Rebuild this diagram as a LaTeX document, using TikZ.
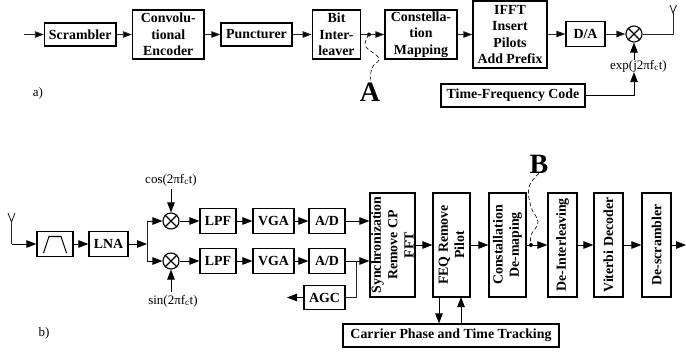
\documentclass[tikz,border=0pt]{standalone}
\usepackage{fontspec}
\setmainfont{Liberation Serif}
\usetikzlibrary{arrows.meta}
\tikzset{
  x=1pt,y=-1pt,
  bx/.style={draw=black,line width=1.2pt,inner sep=0pt,align=center,font=\fontsize{13.9}{16.4}\selectfont\bfseries},
  vbx/.style={bx,rotate=90},
  mix/.style={draw=black,circle,line width=1.1pt,minimum size=16pt,inner sep=0pt},
  lbl/.style={inner sep=0pt,font=\fontsize{13}{15}\selectfont},
  big/.style={inner sep=0pt,font=\fontsize{28}{30}\selectfont\bfseries},
  pt/.style={inner sep=0pt,minimum size=4pt,circle,fill=black},
  ar/.style={draw=black!85,line width=.8pt,-{Triangle[length=9pt,width=6.5pt,fill=black]}},
  arb/.style={draw=black,line width=.9pt,-{Triangle[length=10pt,width=7.5pt,fill=black]}},
  ln/.style={draw=black!85,line width=.9pt},
  dsh/.style={draw=black,line width=.6pt,dash pattern=on 4pt off 2.5pt},
}
\begin{document}
\begin{tikzpicture}
\useasboundingbox (0,0) rectangle (686,356);
% a) transmitter
\coordinate (in) at (24,34.5);
\node[bx,minimum width=71.5pt,minimum height=23pt] (scr) at (80.25,34.5) {Scrambler};
\node[bx,minimum width=71.5pt,minimum height=49pt] (conv) at (168.25,34.5) {Convolu-\\tional\\Encoder};
\node[bx,minimum width=71pt,minimum height=23pt] (punc) at (256.5,34.5) {Puncturer};
\node[bx,minimum width=48.5pt,minimum height=49pt] (bit) at (336.5,34.5) {Bit\\Inter-\\leaver};
\node[pt] (dota) at (369,34.5) {};
\node[bx,minimum width=72pt,minimum height=49pt] (cons) at (421,34.5) {Constella-\\tion\\Mapping};
\node[bx,minimum width=74pt,minimum height=67pt] (ifft) at (510,34.5) {IFFT\\Insert\\Pilots\\Add Prefix};
\node[bx,minimum width=39pt,minimum height=25pt] (da) at (585.5,34) {D/A};
\node[mix] (mxa) at (634,34) {};
\draw[line width=1.1pt] (mxa.45)--(mxa.225) (mxa.135)--(mxa.315);
\coordinate (anta) at (673,13);
\coordinate (antal) at (670,5);
\coordinate (antar) at (676.5,5);
\node[lbl] (exp) at (638.5,66) {exp(j2πf\textsubscript{c}t)};
\node[bx,minimum width=144pt,minimum height=23pt] (tfc) at (513,95.5) {Time-Frequency Code};
\node[big] (A) at (370,92) {A};
\node[lbl] (la) at (38,93) {a)};
\draw[ar] (in)--(scr);
\draw[ar] (scr)--(conv);
\draw[ar] (conv)--(punc);
\draw[ar] (punc)--(bit);
\draw[ar] (bit)--(cons);
\draw[ar] (cons)--(ifft);
\draw[ar] (ifft.east |- da)--(da);
\draw[ar] (da)--(mxa);
\draw[ln] (mxa.east) -- (mxa -| anta) -- (anta);
\draw[ln] (antal)--(anta)--(antar);
\draw[arb] (tfc) -- (tfc -| mxa) -- (exp.south -| mxa);
\draw[arb] (exp.north -| mxa) -- (mxa);
\draw[dsh] plot[smooth,tension=.7] coordinates {(dota) (366,40) (366,47) (376,55) (379,60) (372,68) (A.north)};
% b) receiver
\coordinate (antb) at (11.5,244);
\coordinate (antbm) at (11.5,222);
\coordinate (antbl) at (8,213);
\coordinate (antbr) at (15,213);
\node[bx,minimum width=36pt,minimum height=24.5pt] (flt) at (55,244) {};
\draw[line width=1.1pt] (43.5,253)--(49,236.5)--(61,236.5)--(66.5,253);
\node[bx,minimum width=39pt,minimum height=24.5pt] (lna) at (108.5,244) {LNA};
\coordinate (spl) at (147,244);
\node[mix] (m1) at (171,221) {};
\node[mix] (m2) at (171,261) {};
\draw[line width=1.1pt] (m1.45)--(m1.225) (m1.135)--(m1.315) (m2.45)--(m2.225) (m2.135)--(m2.315);
\node[lbl] (cosl) at (171,180) {cos(2πf\textsubscript{c}t)};
\node[lbl] (sinl) at (173,301) {sin(2πf\textsubscript{c}t)};
\node[bx,minimum width=36pt,minimum height=24.5pt] (lp1) at (218,221) {LPF};
\node[bx,minimum width=36pt,minimum height=24.5pt] (lp2) at (218,261) {LPF};
\node[bx,minimum width=41pt,minimum height=24.5pt] (vg1) at (273.5,221) {VGA};
\node[bx,minimum width=41pt,minimum height=24.5pt] (vg2) at (273.5,261) {VGA};
\node[bx,minimum width=36pt,minimum height=24.5pt] (ad1) at (327,221) {A/D};
\node[bx,minimum width=36pt,minimum height=24.5pt] (ad2) at (327,261) {A/D};
\node[bx,minimum width=41pt,minimum height=24.5pt] (agc) at (324.5,297.5) {AGC};
\coordinate (agco) at (287,297.5);
\node[vbx,minimum height=45pt,minimum width=104pt] (syn) at (392.5,245) {Synchronization\\Remove CP\\FFT};
\node[vbx,minimum height=37pt,minimum width=104pt] (feq) at (451.5,245) {FEQ Remove\\Pilot};
\node[vbx,minimum height=37pt,minimum width=104pt] (dem) at (507.5,245) {Constallation\\De-maping};
\node[vbx,minimum height=29pt,minimum width=104pt] (dei) at (562.5,245) {De-Interleaving};
\node[vbx,minimum height=29pt,minimum width=104pt] (vit) at (608.5,245) {Viterbi Decoder};
\node[vbx,minimum height=29pt,minimum width=104pt] (des) at (656.5,245) {De-scrambler};
\coordinate (outb) at (686,245);
\node[pt] (dotb) at (531,245) {};
\node[bx,minimum width=216pt,minimum height=23pt] (car) at (451,335.5) {Carrier Phase and Time Tracking};
\node[big] (B) at (539,164) {B};
\node[lbl] (lb) at (44,333) {b)};
\draw[ln] (antbl)--(antbm)--(antbr);
\draw[ln] (antbm)--(antb);
\draw[arb] (antb)--(flt.west);
\draw[arb] (flt)--(lna);
\draw[arb] (lna)--(spl);
\draw[ln] (m1 -| spl) -- (m2 -| spl);
\draw[arb] (m1 -| spl)--(m1);
\draw[arb] (m2 -| spl)--(m2);
\draw[arb] ([yshift=-3pt]cosl.south -| m1)--(m1);
\draw[arb] ([yshift=3pt]sinl.north -| m2)--(m2);
\draw[arb] (m1)--(lp1);
\draw[arb] (m2)--(lp2);
\draw[arb] (lp1)--(vg1);
\draw[arb] (lp2)--(vg2);
\draw[arb] (vg1)--(ad1);
\draw[arb] (vg2)--(ad2);
\draw[arb] (ad1.east)--(ad1 -| syn.north);
\draw[arb] (ad2.east)--(ad2 -| syn.north);
\draw[arb] (agc)--(agco);
\coordinate (jn) at (356,261);
\draw[ln] (agc.east)--(agc.east -| jn)--(jn);
\draw[arb] (syn.south)--(feq.north);
\draw[arb] (feq.south)--(dem.north);
\draw[arb] (dem.south)--(dei.north);
\draw[arb] (dei.south)--(vit.north);
\draw[arb] (vit.south)--(des.north);
\draw[arb] (des.south)--(outb);
\coordinate (fd) at (439,297);
\coordinate (fu) at (461,297);
\draw[arb] (fd)--(fd |- car.north);
\draw[arb] (fu |- car.north)--(fu);
\draw[dsh] plot[smooth,tension=.7] coordinates {(B.south) (529,187) (531,207) (538,222) (531,235) (dotb)};
\end{tikzpicture}
\end{document}
